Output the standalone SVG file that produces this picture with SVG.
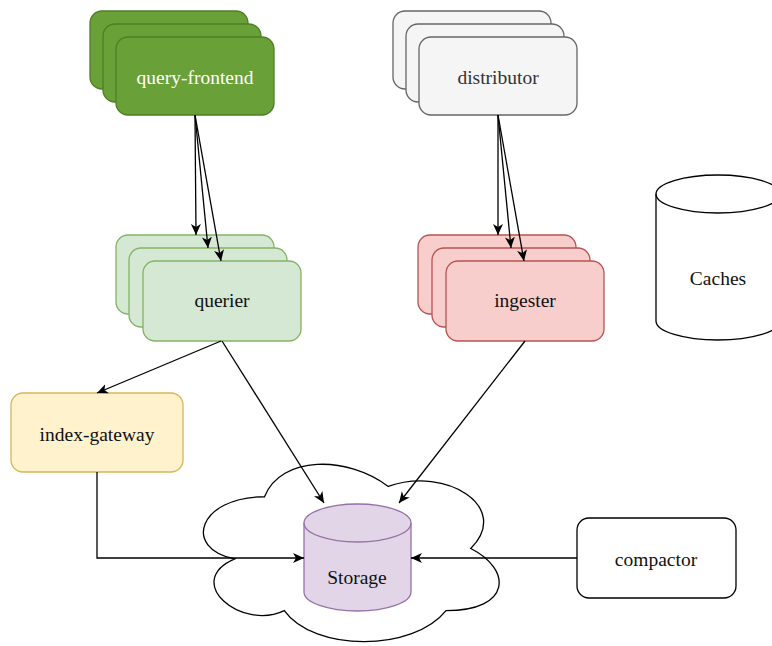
<svg xmlns="http://www.w3.org/2000/svg" width="772" height="646" viewBox="0 0 772 646" font-family="'Liberation Serif', 'DejaVu Serif', serif">
<style>
text{font-family:'Liberation Serif','DejaVu Serif',serif;font-size:19.5px;text-anchor:middle}
.c{fill:none;stroke:#000;stroke-width:1.3}
.qf{fill:#6aa038;stroke:#4d7f24;stroke-width:1.3}
.di{fill:#f5f5f5;stroke:#666;stroke-width:1.3}
.qu{fill:#d5e8d4;stroke:#82b366;stroke-width:1.3}
.in{fill:#f8cecc;stroke:#b85450;stroke-width:1.3}
.ig{fill:#fff2cc;stroke:#d6b656;stroke-width:1.3}
.st{fill:#e1d5e7;stroke:#9673a6;stroke-width:1.3}
.w{fill:#fff;stroke:#000;stroke-width:1.3}
</style>
<defs>
<marker id="a" markerUnits="userSpaceOnUse" markerWidth="12" markerHeight="11" refX="11" refY="5" orient="auto">
<path d="M0,0 L11,5 L0,10 L3,5 Z" fill="#000"/>
</marker>
</defs>
<g id="cloud">
<path class="w" d="M264.5,496.75 C198.5,496.75 182,548.5 234.8,558.85 C182,581.62 241.4,631.3 284.3,610.6 C314,652 413,652 446,610.6 C512,610.6 512,569.2 470.75,548.5 C512,507.1 446,465.7 388.25,486.4 C347,455.35 281,455.35 264.5,496.75 Z"/>
</g>
<g id="query-frontend">
<rect class="qf" x="90" y="11" width="158" height="78" rx="12"/>
<rect class="qf" x="103" y="24" width="158" height="78" rx="12"/>
<rect class="qf" x="116" y="37" width="158" height="78" rx="12"/>
<text x="195" y="84" fill="#fff">query-frontend</text>
</g>
<g id="distributor">
<rect class="di" x="393" y="11" width="158" height="78" rx="12"/>
<rect class="di" x="406" y="24" width="158" height="78" rx="12"/>
<rect class="di" x="419" y="37" width="158" height="78" rx="12"/>
<text x="498" y="84" fill="#333">distributor</text>
</g>
<g id="querier">
<rect class="qu" x="116" y="235" width="158" height="79" rx="12"/>
<rect class="qu" x="129" y="248" width="158" height="79" rx="12"/>
<rect class="qu" x="143" y="261" width="158" height="80" rx="12"/>
<text x="222" y="307" fill="#111">querier</text>
</g>
<g id="ingester">
<rect class="in" x="418" y="235" width="158" height="79" rx="12"/>
<rect class="in" x="432" y="248" width="158" height="79" rx="12"/>
<rect class="in" x="446" y="261" width="158" height="80" rx="12"/>
<text x="525" y="307" fill="#111">ingester</text>
</g>
<g id="caches">
<path class="w" d="M656,194 A62,19 0 0 1 780,194 L780,321 A62,19 0 0 1 656,321 Z"/>
<path class="c" d="M656,194 A62,19 0 0 0 780,194"/>
<text x="718" y="285" fill="#111">Caches</text>
</g>
<g id="index-gateway">
<rect class="ig" x="11" y="393" width="172" height="79" rx="12"/>
<text x="97" y="441" fill="#111">index-gateway</text>
</g>
<g id="storage">
<path class="st" d="M304,523 A53.5,19 0 0 1 411,523 L411,592 A53.5,19 0 0 1 304,592 Z"/>
<path class="st" style="fill:none" d="M304,523 A53.5,19 0 0 0 411,523"/>
<text x="357" y="584" fill="#111">Storage</text>
</g>
<g id="compactor">
<rect class="w" x="577" y="518" width="159" height="80" rx="12"/>
<text x="656" y="566" fill="#111">compactor</text>
</g>
<g id="connectors">
<line class="c" x1="195" y1="115" x2="196" y2="235" marker-end="url(#a)"/>
<line class="c" x1="195" y1="115" x2="208" y2="248" marker-end="url(#a)"/>
<line class="c" x1="195" y1="115" x2="221" y2="261" marker-end="url(#a)"/>
<line class="c" x1="498" y1="115" x2="498" y2="235" marker-end="url(#a)"/>
<line class="c" x1="498" y1="115" x2="511" y2="248" marker-end="url(#a)"/>
<line class="c" x1="498" y1="115" x2="524" y2="261" marker-end="url(#a)"/>
<line class="c" x1="221" y1="341" x2="97" y2="393" marker-end="url(#a)"/>
<line class="c" x1="222" y1="341" x2="324" y2="503" marker-end="url(#a)"/>
<line class="c" x1="525" y1="341" x2="399" y2="503" marker-end="url(#a)"/>
<polyline class="c" points="97,472 97,558 304,558" marker-end="url(#a)"/>
<line class="c" x1="577" y1="558" x2="411" y2="558" marker-end="url(#a)"/>
</g>
</svg>
